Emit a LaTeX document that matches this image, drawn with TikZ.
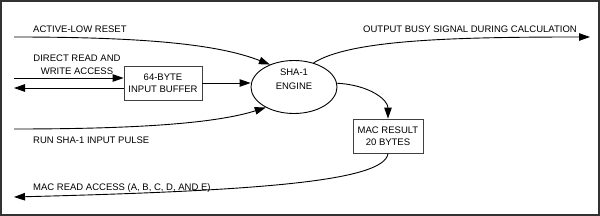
\documentclass[tikz,border=0pt]{standalone}
\usepackage{fontspec}
\setmainfont{Liberation Sans}
\usetikzlibrary{arrows.meta,shapes.geometric}
\begin{document}
\begin{tikzpicture}[x=1pt,y=-1pt,
  lbl/.style={font=\fontsize{9.5}{13}\selectfont, inner sep=0pt},
  boxnode/.style={draw=black!75, line width=0.8pt, font=\fontsize{9.5}{12.5}\selectfont, align=center, inner sep=0pt},
  engnode/.style={ellipse, draw, line width=0.9pt, minimum width=86pt, minimum height=53pt, inner sep=0pt, font=\fontsize{9.5}{14.5}\selectfont, align=center},
  conn/.style={line width=0.9pt, -{Triangle[length=11pt,width=7.5pt]}}
]
\useasboundingbox (0,0) rectangle (600,216);
\draw[line width=1.4pt, black!80] (1,1) rectangle (599,215);

\node[engnode] (eng) at (294,87) {SHA-1\\ENGINE\\[1pt]};
\node[boxnode, minimum width=78pt, minimum height=34pt] (buf) at (163,83) {64-BYTE\\INPUT BUFFER};
\node[boxnode, minimum width=70pt, minimum height=34pt] (mac) at (388,136) {MAC RESULT\\20 BYTES};

\coordinate (rst) at (14,37);
\coordinate (drw) at (14,78);
\coordinate (ret) at (14,88);
\coordinate (run) at (14,129);
\coordinate (busy) at (590,37);
\coordinate (rd) at (14,197);

\node[lbl, anchor=west] (lrst) at (33,29) {ACTIVE-LOW RESET};
\node[lbl, align=center] (ldrw) at (77,65) {DIRECT READ AND\\WRITE ACCESS};
\node[lbl, anchor=west] (lrun) at (33,140) {RUN SHA-1 INPUT PULSE};
\node[lbl, anchor=west] (lbusy) at (363,29) {OUTPUT BUSY SIGNAL DURING CALCULATION};
\node[lbl, anchor=west] (lrd) at (33,188) {MAC READ ACCESS (A, B, C, D, AND E)};

\draw[conn] (rst) .. controls (150,37) and (220,45) .. (eng.137);
\draw[conn] (run) .. controls (150,129) and (220,122) .. (eng.216);
\draw[conn] (drw) -- ([yshift=5pt]buf.west);
\draw[conn] ([yshift=-5pt]buf.west) -- (ret);
\draw[conn] (buf.east) -- (buf.east -| eng.west);
\draw[conn] (eng.51) .. controls (350,40) and (450,37) .. (busy);
\draw[conn] (eng.5) .. controls (370,85) and (388,100) .. (mac.north);
\draw[conn] (mac.south) .. controls (385,182) and (250,191) .. (rd);
\end{tikzpicture}
\end{document}
